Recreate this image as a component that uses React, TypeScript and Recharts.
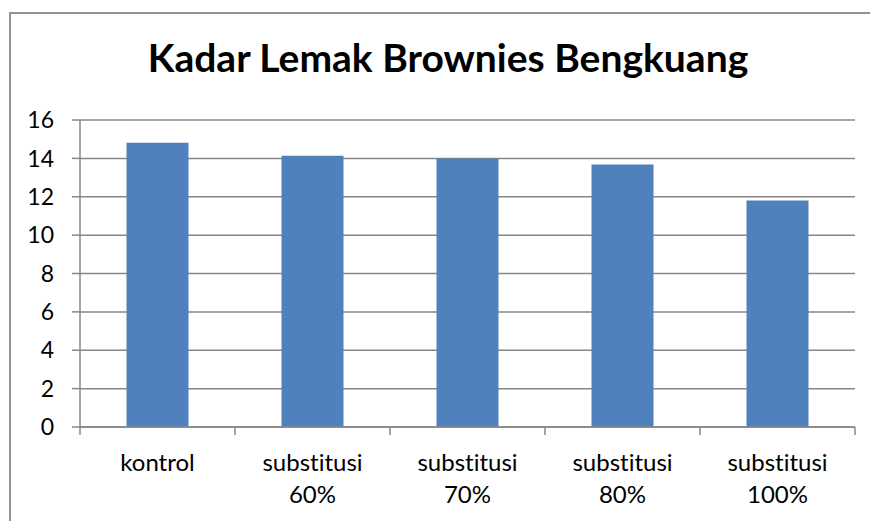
import { Bar, BarChart, CartesianGrid, XAxis, YAxis } from "recharts";

const categories = ["kontrol", "substitusi 60%", "substitusi 70%", "substitusi 80%", "substitusi 100%"];
const lemak = [14.82, 14.14, 14.0, 13.68, 11.8];
const yTicks = [0, 2, 4, 6, 8, 10, 12, 14, 16];

const data = categories.map((name, i) => ({ name, lemak: lemak[i] }));

const FONT = "Lato, 'Open Sans', sans-serif";
const GRID = "#878787";
const TICK = 8;

// Excel-style: tick marks sit between categories, label stays centred
function CategoryTick({ x, y, payload, index, width, visibleTicksCount }: any) {
  const [first, ...rest] = String(payload.value).split(" ");
  const half = payload.offset || width / visibleTicksCount / 2;
  const last = index === visibleTicksCount - 1;
  return (
    <g>
      <line x1={x - half} x2={x - half} y1={y - TICK} y2={y} stroke={GRID} strokeWidth={1.5} />
      {last && <line x1={x + half} x2={x + half} y1={y - TICK} y2={y} stroke={GRID} strokeWidth={1.5} />}
      <text
        x={x} y={y} textAnchor="middle" fontFamily={FONT} fontSize={24} fill="#000"
        style={{ fontVariantLigatures: "none" }}
      >
        <tspan x={x} dy={36}>{first}</tspan>
        {rest.length > 0 && <tspan x={x} dy={32}>{rest.join(" ")}</tspan>}
      </text>
    </g>
  );
}

export default function App() {
  return (
    <div style={{ position: "fixed", left: 0, top: 0, width: 870, height: 521, overflow: "hidden", background: "#fff" }}>
      <div style={{ position: "absolute", left: 9, top: 12, width: 900, height: 600, border: "2px solid #939393" }} />
      <div
        style={{
          position: "absolute", left: 13, top: 38, width: 870, textAlign: "center",
          fontFamily: FONT, fontWeight: 700, fontSize: 39, lineHeight: "39px", color: "#000",
        }}
      >
        Kadar Lemak Brownies Bengkuang
      </div>
      <div style={{ position: "absolute", left: 0, top: 0 }}>
        <BarChart width={870} height={521} data={data} margin={{ top: 120, right: 15, left: 20, bottom: 1 }} barCategoryGap="30%">
          <CartesianGrid vertical={false} stroke={GRID} strokeWidth={1.5} />
          <XAxis
            dataKey="name" stroke={GRID} strokeWidth={1.5} tickLine={false}
            tickSize={TICK} tickMargin={0} height={93} interval={0} tick={<CategoryTick />}
          />
          <YAxis
            domain={[0, 16]} ticks={yTicks} width={60} tickSize={TICK} tickMargin={18}
            stroke={GRID} strokeWidth={1.5}
            tick={{ fontFamily: FONT, fontSize: 23, fill: "#000" }}
          />
          <Bar dataKey="lemak" fill="#4F81BD" isAnimationActive={false} />
        </BarChart>
      </div>
    </div>
  );
}
